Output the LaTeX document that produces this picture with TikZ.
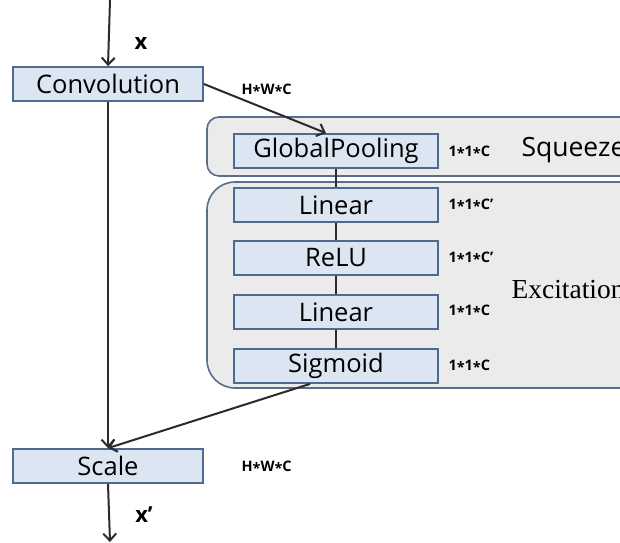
\documentclass[tikz,border=0pt]{standalone}
\usepackage{fontspec}
\setmainfont{Open Sans}
\newfontfamily\serifface{Liberation Serif}
\usetikzlibrary{arrows.meta}
\definecolor{boxfill}{HTML}{DCE6F2}
\definecolor{boxline}{HTML}{4F6A8F}
\definecolor{groupfill}{HTML}{EBEBEB}
\definecolor{groupline}{HTML}{5A6E8C}
\definecolor{wire}{HTML}{2B2B2B}
% small raised star between the sizes
\newcommand\dimstar{\raisebox{-0.3ex}{*}}
\begin{document}
\begin{tikzpicture}[x=1pt, y=-1pt,
	layer/.style={shape=rectangle, draw=boxline, fill=boxfill, line width=1.8pt, minimum width=204pt, minimum height=34pt, inner sep=0pt, font=\fontsize{25.5}{25.5}\selectfont},
	group/.style={draw=groupline, fill=groupfill, line width=1.6pt},
	dims/.style={anchor=west, font=\bfseries\fontsize{14.5}{14.5}\selectfont},
	arr/.style={draw=wire, line width=2pt, -{Straight Barb[length=7pt,width=13pt,line width=2pt]}},
	link/.style={draw=wire, line width=2pt}]
	\useasboundingbox (0,0) rectangle (620,542);
	\clip (0,0) rectangle (620,542);
	% squeeze and excitation groups
	\draw [group, rounded corners=12pt] (207,117) rectangle (650,176);
	\draw [group, rounded corners=28pt] (207,182) rectangle (650,388);
	\node [anchor=west, font=\fontsize{26.5}{26.5}\selectfont] (sq) at (518,150) {Squeeze};
	\node [anchor=west, font=\serifface\fontsize{27.5}{27.5}\selectfont] (ex) at (508,290) {Excitation};
	% main path
	\node at (108,84) [layer, minimum width=190pt] (conv) {Convolution};
	\node at (108,466) [layer, minimum width=190pt] (scale) {Scale};
	\coordinate (in) at (110,0);
	\coordinate (out) at (110,542);
	\draw [arr] (in) -- (conv.north);
	\draw [arr] (conv.south) -- (scale.north);
	\draw [arr] (scale.south) -- (out);
	\node at (141,43) [font=\bfseries\fontsize{22}{22}\selectfont] (xin) {x};
	\node at (144,515) [font=\bfseries\fontsize{22}{22}\selectfont] (xout) {x’};
	% SE branch
	\node at (336,151) [layer] (pool) {GlobalPooling};
	\node at (336,205) [layer] (lin1) {Linear};
	\node at (336,258) [layer] (relu) {ReLU};
	\node at (336,312) [layer] (lin2) {Linear};
	\node at (336,366) [layer] (sig) {Sigmoid};
	\draw [link] (pool) -- (lin1);
	\draw [link] (lin1) -- (relu);
	\draw [link] (relu) -- (lin2);
	\draw [link] (lin2) -- (sig);
	\draw [arr] (conv.east) -- ([xshift=-10pt]pool.north);
	\draw [arr] ([xshift=-26pt]sig.south) -- (scale.north);
	% tensor sizes
	\node at (238,90) [dims] (d0) {H\dimstar W\dimstar C};
	\node at (238,467) [dims] (d6) {H\dimstar W\dimstar C};
	\node at (445,152) [dims] (d1) {1\dimstar 1\dimstar C};
	\node at (445,205) [dims] (d2) {1\dimstar 1\dimstar C'};
	\node at (445,258) [dims] (d3) {1\dimstar 1\dimstar C'};
	\node at (445,311) [dims] (d4) {1\dimstar 1\dimstar C};
	\node at (445,366) [dims] (d5) {1\dimstar 1\dimstar C};
\end{tikzpicture}
\end{document}
